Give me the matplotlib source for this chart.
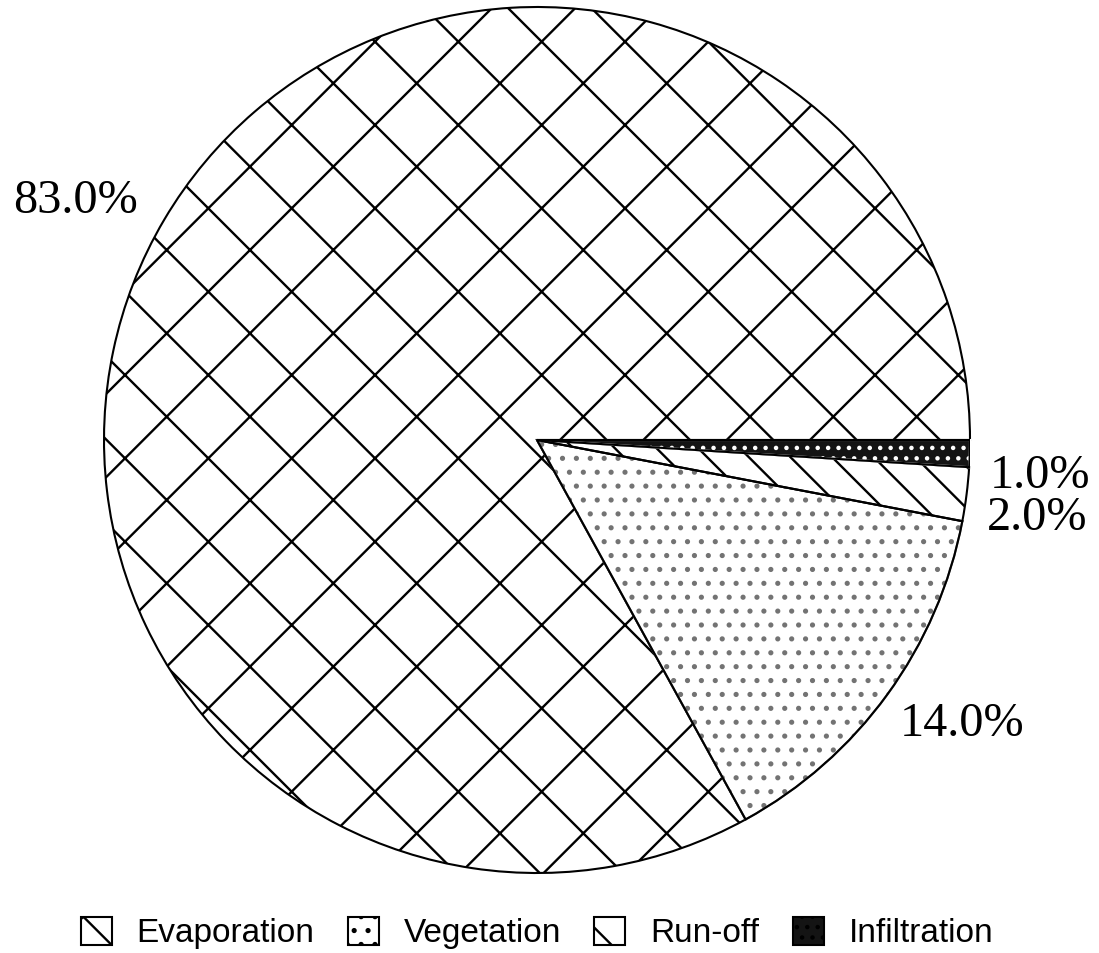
import numpy as np
import matplotlib
matplotlib.use("Agg")
import matplotlib.pyplot as plt
from matplotlib.patches import Wedge

# water balance shares (percent)
categories = ["Evaporation", "Vegetation", "Run-off", "Infiltration"]
shares = [83.0, 14.0, 2.0, 1.0]
value_labels = ["83.0%", "14.0%", "2.0%", "1.0%"]

hatches = ["x", "...", "\\\\", "...."]
faces = ["white", "white", "white", "0.08"]
hatch_colors = ["black", "0.45", "black", "white"]
# label placement: (radial distance, angle nudge in degrees)
label_pos = [(1.20, 3.2), (1.18, 2.2), (1.17, -1.7), (1.165, -2.3)]

DPI = 250  # hatch period is dpi/6 px, so render at 250 to get wide hatching
LW = 0.6
plt.rcParams["hatch.linewidth"] = 0.68

fig = plt.figure(figsize=(1099 / DPI, 953 / DPI), dpi=DPI)
ax = fig.add_axes([104 / 1099, 80 / 953, 866 / 1099, 866 / 953])

wedges, _ = ax.pie(shares, startangle=0, counterclock=True, radius=1,
                   wedgeprops=dict(edgecolor="black", linewidth=LW))
for w, h, fc, hc in zip(wedges, hatches, faces, hatch_colors):
    w.set_facecolor(fc)
    w.set_hatch(h)
    if hc != "black":
        # hatch colour follows edge colour, so redraw the outline in black on top
        w.set_edgecolor(hc)
        ax.add_patch(Wedge(w.center, w.r, w.theta1, w.theta2, fill=False,
                           edgecolor="black", linewidth=LW))

for w, lab, (dist, nudge) in zip(wedges, value_labels, label_pos):
    mid = np.deg2rad((w.theta1 + w.theta2) / 2 + nudge)
    ax.text(dist * np.cos(mid), dist * np.sin(mid), lab, ha="center", va="center",
            fontsize=13.9, family="Liberation Serif")

ax.set_xlim(-1, 1)
ax.set_ylim(-1, 1)
ax.set_aspect("equal")
ax.axis("off")

leg = fig.legend(wedges, categories, loc="center", bbox_to_anchor=(537 / 1099, 1 - 933 / 953),
                 ncol=4, frameon=False, prop=dict(family="Liberation Sans", size=9.6),
                 handlelength=0.93, handleheight=0.93, handletextpad=0.75,
                 columnspacing=1.0, borderaxespad=0)
for h in leg.legend_handles:
    h.set_edgecolor("black")

fig.savefig("out.png", dpi=DPI)
